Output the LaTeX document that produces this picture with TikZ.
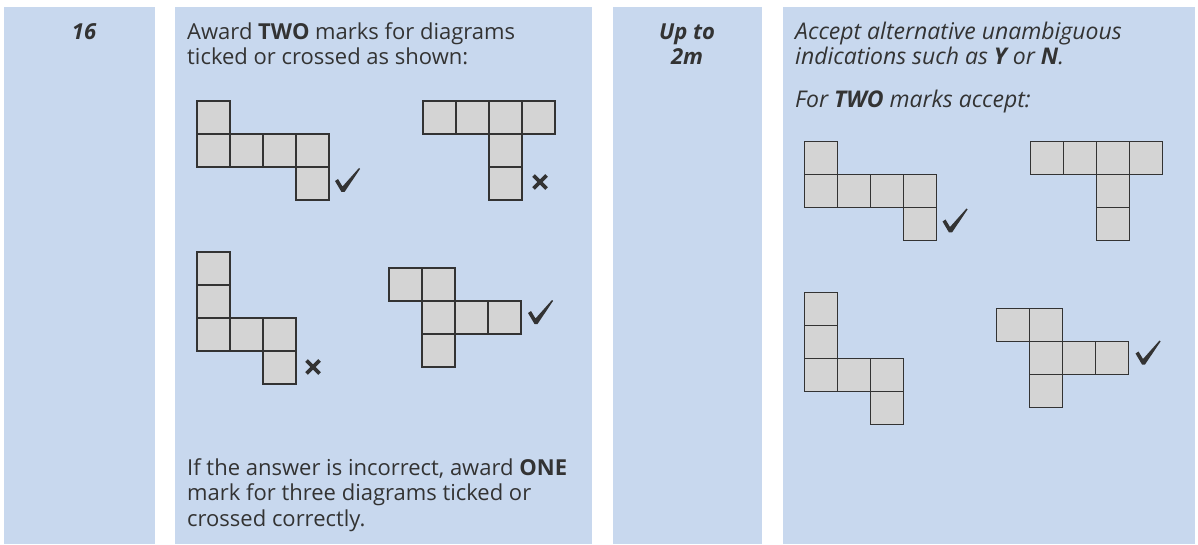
\documentclass[tikz,border=0pt]{standalone}
\usepackage{fontspec}
\setmainfont{Open Sans}
\definecolor{panel}{HTML}{C8D8EE}
\definecolor{ink}{HTML}{333333}
\definecolor{cellfill}{HTML}{D4D4D4}
\definecolor{celledge}{HTML}{333333}
\newcommand\cellnode[3]{\node[cell] (#1) at ({(#2+0.5)*33},{(#3+0.5)*33}) {};}
\tikzset{
  cell/.style={draw=celledge, fill=cellfill, line width=1.5pt, minimum size=33pt, inner sep=0pt, outer sep=0pt},
  txt/.style={anchor=base west, inner sep=0pt, text=ink, font=\fontsize{22}{25}\selectfont},
  itxt/.style={anchor=base west, inner sep=0pt, text=ink, font=\fontsize{23}{25}\selectfont\itshape},
  ctxt/.style={anchor=base, inner sep=0pt, text=ink, font=\fontsize{22}{25}\selectfont\bfseries\itshape},
  tickmark/.pic={\fill[ink] (0,13) -- (3,11) -- (7.5,18.5) -- (24,0) -- (25,1) -- (9.5,24) -- (6.5,24) -- cycle;},
  crossmark/.pic={\draw[ink, line width=3.8pt] (-6.5,-6.5) -- (6.5,6.5) (-6.5,6.5) -- (6.5,-6.5);}
}
\begin{document}
\begin{tikzpicture}[x=1pt,y=-1pt]
\useasboundingbox (0,0) rectangle (1198,545);
\fill[white] (0,0) rectangle (1198,545);
% panels
\fill[panel] (4,7) rectangle (155,544);
\fill[panel] (175,7) rectangle (592,544);
\fill[panel] (613,7) rectangle (762,544);
\fill[panel] (783,7) rectangle (1195,544);
% column headers
\node[ctxt] (num) at (84,40) {16};
\node[ctxt] (upto) at (687,40) {Up to};
\node[ctxt] (twom) at (687,65) {2m};
% panel 2 text
\node[txt] (a1) at (187,40) {Award \textbf{TWO} marks for diagrams};
\node[txt] (a2) at (187,65) {ticked or crossed as shown:};
\node[txt] (b1) at (187,475) {If the answer is incorrect, award \textbf{ONE}};
\node[txt] (b2) at (187,500) {mark for three diagrams ticked or};
\node[txt] (b3) at (187,526) {crossed correctly.};
% panel 4 text
\node[itxt] (c1) at (795,40) {Accept alternative unambiguous};
\node[itxt] (c2) at (795,65) {indications such as \textbf{Y} or \textbf{N}.};
\node[itxt] (c3) at (795,108) {For \textbf{TWO} marks accept:};
% ---------- panel 2 diagrams ----------
\begin{scope}[shift={(197,101)}]
\cellnode{pa1}{0}{0}\cellnode{pa2}{0}{1}\cellnode{pa3}{1}{1}\cellnode{pa4}{2}{1}\cellnode{pa5}{3}{1}\cellnode{pa6}{3}{2}
\end{scope}
\begin{scope}[shift={(423,101)}]
\cellnode{pb1}{0}{0}\cellnode{pb2}{1}{0}\cellnode{pb3}{2}{0}\cellnode{pb4}{3}{0}\cellnode{pb5}{2}{1}\cellnode{pb6}{2}{2}
\end{scope}
\begin{scope}[shift={(197,252)}]
\cellnode{pc1}{0}{0}\cellnode{pc2}{0}{1}\cellnode{pc3}{0}{2}\cellnode{pc4}{1}{2}\cellnode{pc5}{2}{2}\cellnode{pc6}{2}{3}
\end{scope}
\begin{scope}[shift={(389,268)}]
\cellnode{pd1}{0}{0}\cellnode{pd2}{1}{0}\cellnode{pd3}{1}{1}\cellnode{pd4}{2}{1}\cellnode{pd5}{3}{1}\cellnode{pd6}{1}{2}
\end{scope}
\pic at (335,168) {tickmark};
\pic at (540,182) {crossmark};
\pic at (313,367) {crossmark};
\pic at (528,300) {tickmark};
% ---------- panel 4 diagrams ----------
\begin{scope}[shift={(804.5,141.5)}]
\cellnode{qa1}{0}{0}\cellnode{qa2}{0}{1}\cellnode{qa3}{1}{1}\cellnode{qa4}{2}{1}\cellnode{qa5}{3}{1}\cellnode{qa6}{3}{2}
\end{scope}
\begin{scope}[shift={(1030.5,141.5)}]
\cellnode{qb1}{0}{0}\cellnode{qb2}{1}{0}\cellnode{qb3}{2}{0}\cellnode{qb4}{3}{0}\cellnode{qb5}{2}{1}\cellnode{qb6}{2}{2}
\end{scope}
\begin{scope}[shift={(804.5,292.5)}]
\cellnode{qc1}{0}{0}\cellnode{qc2}{0}{1}\cellnode{qc3}{0}{2}\cellnode{qc4}{1}{2}\cellnode{qc5}{2}{2}\cellnode{qc6}{2}{3}
\end{scope}
\begin{scope}[shift={(996.5,308.5)}]
\cellnode{qd1}{0}{0}\cellnode{qd2}{1}{0}\cellnode{qd3}{1}{1}\cellnode{qd4}{2}{1}\cellnode{qd5}{3}{1}\cellnode{qd6}{1}{2}
\end{scope}
\pic at (942.5,208.5) {tickmark};
\pic at (1135.5,340.5) {tickmark};
\end{tikzpicture}
\end{document}
